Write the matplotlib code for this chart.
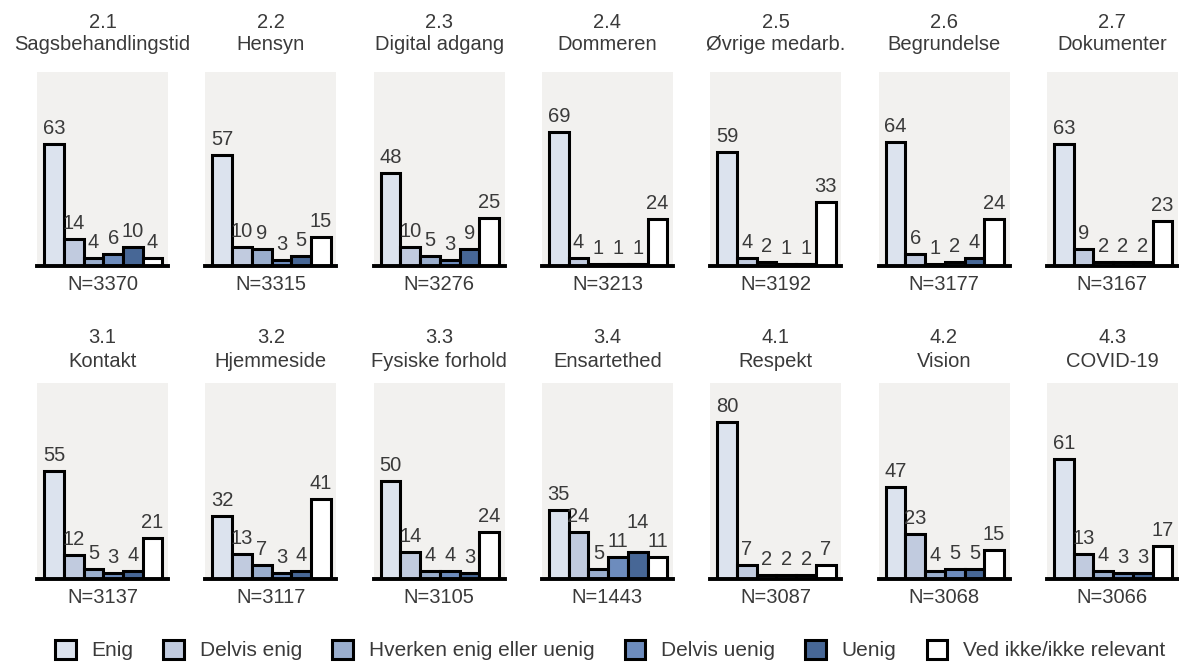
import matplotlib
matplotlib.use("Agg")
import matplotlib.pyplot as plt
from matplotlib.patches import Patch

# Survey items: code, short name, sample size and answer distribution (%)
codes = ["2.1", "2.2", "2.3", "2.4", "2.5", "2.6", "2.7",
         "3.1", "3.2", "3.3", "3.4", "4.1", "4.2", "4.3"]
names = ["Sagsbehandlingstid", "Hensyn", "Digital adgang", "Dommeren",
         "Øvrige medarb.", "Begrundelse", "Dokumenter",
         "Kontakt", "Hjemmeside", "Fysiske forhold", "Ensartethed",
         "Respekt", "Vision", "COVID-19"]
n_resp = [3370, 3315, 3276, 3213, 3192, 3177, 3167,
          3137, 3117, 3105, 1443, 3087, 3068, 3066]

categories = ["Enig", "Delvis enig", "Hverken enig eller uenig",
              "Delvis uenig", "Uenig", "Ved ikke/ikke relevant"]

enig         = [63, 57, 48, 69, 59, 64, 63, 55, 32, 50, 35, 80, 47, 61]
delvis_enig  = [14, 10, 10, 4, 4, 6, 9, 12, 13, 14, 24, 7, 23, 13]
hverken      = [4, 9, 5, 1, 2, 1, 2, 5, 7, 4, 5, 2, 4, 4]
delvis_uenig = [6, 3, 3, 1, 1, 2, 2, 3, 3, 4, 11, 2, 5, 3]
uenig        = [10, 5, 9, 1, 1, 4, 2, 4, 4, 3, 14, 2, 5, 3]
ved_ikke     = [4, 15, 25, 24, 33, 24, 23, 21, 41, 24, 11, 7, 15, 17]

series = [enig, delvis_enig, hverken, delvis_uenig, uenig, ved_ikke]
colors = ["#dce3ee", "#c1cbdf", "#9aaecd", "#6d8cbd", "#476796", "#ffffff"]

TXT = "#3a3a3a"
BG = "#f2f1ef"
FS = 14.5
PX = 0.72  # points per pixel at 100 dpi

plt.rcParams["font.family"] = ["Liberation Sans", "DejaVu Sans"]

W, H = 1179, 664
fig = plt.figure(figsize=(W / 100, H / 100), dpi=100)

ncol = 7
rows = [  # (top px, bottom px, name offset, code offset)
    (72, 266, 22, 44),
    (383, 579, 16, 40),
]

panel_labels = []
for k, code in enumerate(codes):
    r, c = divmod(k, ncol)
    top, bot, off_name, off_code = rows[r]
    left = 37 + c * 168.3
    ax = fig.add_axes([left / W, (H - bot) / H, 131 / W, (bot - top) / H])
    ax.set_facecolor(BG)
    vals = [s[k] for s in series]
    xs = list(range(len(vals)))
    ax.bar(xs, vals, width=1.0, color=colors, edgecolor="black",
           linewidth=2.2, zorder=2)
    ax.axhline(0, color="black", linewidth=2.8, zorder=3, clip_on=False)
    ax.set_xlim(-0.86, 5.78)
    ax.set_ylim(0, 100)
    labels = []
    for x, v in zip(xs, vals):
        labels.append(ax.annotate(str(v), (x, v), xytext=(0, 10 * PX),
                                  textcoords="offset points", ha="center",
                                  va="baseline", fontsize=FS, color=TXT,
                                  annotation_clip=False, zorder=4))
    panel_labels.append(labels)
    for s in ax.spines.values():
        s.set_visible(False)
    ax.set_xticks([])
    ax.set_yticks([])
    ax.annotate(names[k], (0.5, 1), xycoords="axes fraction",
                xytext=(0, off_name * PX), textcoords="offset points",
                ha="center", va="baseline", fontsize=FS, color=TXT)
    ax.annotate(code, (0.5, 1), xycoords="axes fraction",
                xytext=(0, off_code * PX), textcoords="offset points",
                ha="center", va="baseline", fontsize=FS, color=TXT)
    ax.annotate(f"N={n_resp[k]}", (0.5, 0), xycoords="axes fraction",
                xytext=(0, -24 * PX), textcoords="offset points",
                ha="center", va="baseline", fontsize=FS, color=TXT)

# Lift value labels that would collide with a neighbouring label
renderer = fig.canvas.get_renderer()
for labels in panel_labels:
    placed = []
    for t in labels:
        for _ in range(20):
            bb = t.get_window_extent(renderer).shrunk(0.96, 0.9)
            hit = [p for p in placed if bb.overlaps(p)]
            if not hit:
                break
            lift = max(p.y1 for p in hit) - bb.y0 + 2
            dx, dy = t.xyann
            t.xyann = (dx, dy + lift * PX)
        placed.append(t.get_window_extent(renderer).shrunk(0.96, 0.9))

handles = [Patch(facecolor=col, edgecolor="black", linewidth=2.2)
           for col in colors]
fig.legend(handles, categories, loc="center", ncol=6,
           bbox_to_anchor=(610 / W, (H - 650) / H), frameon=False,
           fontsize=15, labelcolor=TXT, handlelength=1.0, handleheight=1.05,
           handletextpad=0.75, columnspacing=1.45, borderaxespad=0)

fig.savefig("out.png", dpi=100)
